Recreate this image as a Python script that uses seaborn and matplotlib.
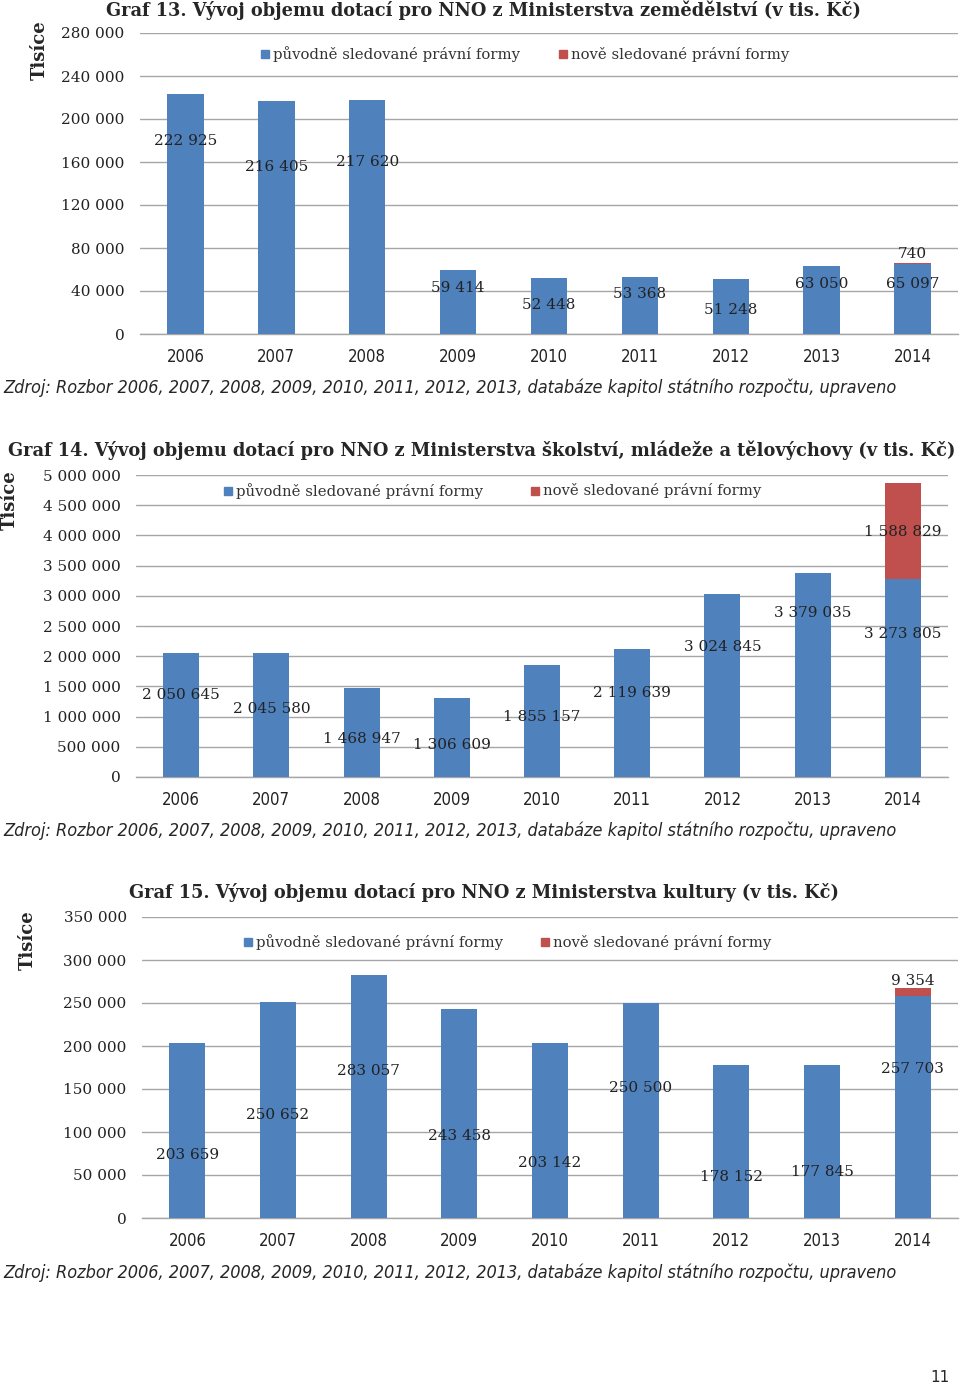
import matplotlib
matplotlib.use("Agg")
import matplotlib.pyplot as plt
import seaborn as sns
import numpy as np

sns.set_theme(style="white")
plt.rcParams['font.family'] = ['DejaVu Serif', 'DejaVu Sans']

years = ["2006", "2007", "2008", "2009", "2010", "2011", "2012", "2013", "2014"]

# Graf 13 – Ministerstvo zemědělství
agr_orig = [222925, 216405, 217620, 59414, 52448, 53368, 51248, 63050, 65097]
agr_new = [0, 0, 0, 0, 0, 0, 0, 0, 740]
agr_label_y = [179500, 155300, 160000, 42800, 27000, 37200, 22300, 46500, 46500]
agr_new_label_y = 74400

# Graf 14 – Ministerstvo školství, mládeže a tělovýchovy
edu_orig = [2050645, 2045580, 1468947, 1306609, 1855157, 2119639, 3024845, 3379035, 3273805]
edu_new = [0, 0, 0, 0, 0, 0, 0, 0, 1588829]
edu_label_y = [1358000, 1126000, 629000, 530000, 993000, 1391000, 2152000, 2715000, 2368000]
edu_new_label_y = 4056000

# Graf 15 – Ministerstvo kultury
cul_orig = [203659, 250652, 283057, 243458, 203142, 250500, 178152, 177845, 257703]
cul_new = [0, 0, 0, 0, 0, 0, 0, 0, 9354]
cul_label_y = [73300, 119800, 170900, 95300, 64000, 151200, 47700, 53500, 173300]
cul_new_label_y = 275600

BLUE = "#4F81BD"
RED = "#C0504D"
GRID = "#A6A6A6"

legend_labels = ["původně sledované právní formy", "nově sledované právní formy"]
source = "Zdroj: Rozbor 2006, 2007, 2008, 2009, 2010, 2011, 2012, 2013, databáze kapitol státního rozpočtu, upraveno"

W, H = 960, 1384
fig = plt.figure(figsize=(W / 100, H / 100), dpi=100)


def fmt(v):
    return f"{v:,}".replace(",", " ")


def px_axes(left, top, right, bottom):
    return fig.add_axes([left / W, 1 - bottom / H, (right - left) / W, (bottom - top) / H])


def draw_chart(ax, orig, new, label_y, new_label_y, ymax, step):
    total = [o + n for o, n in zip(orig, new)]
    sns.barplot(x=years, y=total, color=RED, width=0.4, saturation=1, ax=ax, zorder=3, linewidth=0)
    sns.barplot(x=years, y=orig, color=BLUE, width=0.4, saturation=1, ax=ax, zorder=4, linewidth=0)
    ax.set_xlim(-0.5, 8.5)
    ax.set_ylim(0, ymax)
    ticks = np.arange(0, ymax + step / 2, step)
    ax.set_yticks(ticks)
    ax.set_yticklabels([fmt(int(t)) for t in ticks], fontsize=11, family='DejaVu Serif', color="#222222")
    ax.set_xticks(range(len(years)))
    ax.set_xticklabels(years, fontsize=12, family='DejaVu Sans', fontstretch='condensed', color="#222222")
    ax.tick_params(axis='both', length=0)
    ax.tick_params(axis='y', pad=11)
    ax.tick_params(axis='x', pad=10)
    ax.yaxis.grid(True, color=GRID, lw=1, zorder=0)
    ax.set_axisbelow(True)
    for s in ax.spines.values():
        s.set_visible(False)
    ax.spines['bottom'].set_visible(True)
    ax.spines['bottom'].set_color(GRID)
    ax.spines['bottom'].set_linewidth(1)
    ax.set_xlabel("")
    ax.set_ylabel("")
    for i, (v, ly) in enumerate(zip(orig, label_y)):
        ax.text(i, ly, fmt(v), ha='center', va='center', fontsize=11,
                family='DejaVu Serif', color="#222222", zorder=6)
    ax.text(8, new_label_y, fmt(new[8]), ha='center', va='center', fontsize=11,
            family='DejaVu Serif', color="#222222", zorder=6)


def legend_at(y, x_blue, x_red):
    yf = 1 - y / H
    for x, c, lab in [(x_blue, BLUE, legend_labels[0]), (x_red, RED, legend_labels[1])]:
        fig.patches.append(plt.Rectangle(((x - 4) / W, yf - 4 / H), 8 / W, 8 / H,
                                         transform=fig.transFigure, color=c, zorder=10))
        fig.text((x + 8) / W, yf, lab, ha='left', va='center', fontsize=10.7,
                 family='DejaVu Serif', color="#333333")


TITLE_FS = 12.8
SRC_FS = 13.0

# Chart 1
ax1 = px_axes(140, 33, 958, 334)
draw_chart(ax1, agr_orig, agr_new, agr_label_y, agr_new_label_y, 280000, 40000)
fig.text(483 / W, 1 - 10 / H, "Graf 13. Vývoj objemu dotací pro NNO z Ministerstva zemědělství (v tis. Kč)",
         ha='center', va='center', fontsize=TITLE_FS, fontweight='bold', family='DejaVu Serif')
fig.text(40 / W, 1 - 50 / H, "Tisíce", rotation=90, ha='center', va='center', fontsize=13,
         fontweight='bold', family='DejaVu Serif')
legend_at(54, 265, 563)
fig.text(3 / W, 1 - 388 / H, source, ha='left', va='center', fontsize=SRC_FS, style='italic',
         family='DejaVu Sans', fontstretch='condensed')

# Chart 2
ax2 = px_axes(136, 475, 948, 777)
draw_chart(ax2, edu_orig, edu_new, edu_label_y, edu_new_label_y, 5000000, 500000)
fig.text(8 / W, 1 - 450 / H, "Graf 14. Vývoj objemu dotací pro NNO z Ministerstva školství, mládeže a tělovýchovy (v tis. Kč)",
         ha='left', va='center', fontsize=TITLE_FS, fontweight='bold', family='DejaVu Serif')
fig.text(10 / W, 1 - 500 / H, "Tisíce", rotation=90, ha='center', va='center', fontsize=13,
         fontweight='bold', family='DejaVu Serif')
legend_at(491, 228, 535)
fig.text(3 / W, 1 - 831 / H, source, ha='left', va='center', fontsize=SRC_FS, style='italic',
         family='DejaVu Sans', fontstretch='condensed')

# Chart 3
ax3 = px_axes(142, 917, 958, 1218)
draw_chart(ax3, cul_orig, cul_new, cul_label_y, cul_new_label_y, 350000, 50000)
fig.text(484 / W, 1 - 893 / H, "Graf 15. Vývoj objemu dotací pro NNO z Ministerstva kultury (v tis. Kč)",
         ha='center', va='center', fontsize=TITLE_FS, fontweight='bold', family='DejaVu Serif')
fig.text(28 / W, 1 - 940 / H, "Tisíce", rotation=90, ha='center', va='center', fontsize=13,
         fontweight='bold', family='DejaVu Serif')
legend_at(942, 248, 545)
fig.text(3 / W, 1 - 1273 / H, source, ha='left', va='center', fontsize=SRC_FS, style='italic',
         family='DejaVu Sans', fontstretch='condensed')

fig.text(940 / W, 1 - 1377 / H, "11", ha='center', va='center', fontsize=11, family='DejaVu Sans')

fig.savefig("out.png", dpi=100)
